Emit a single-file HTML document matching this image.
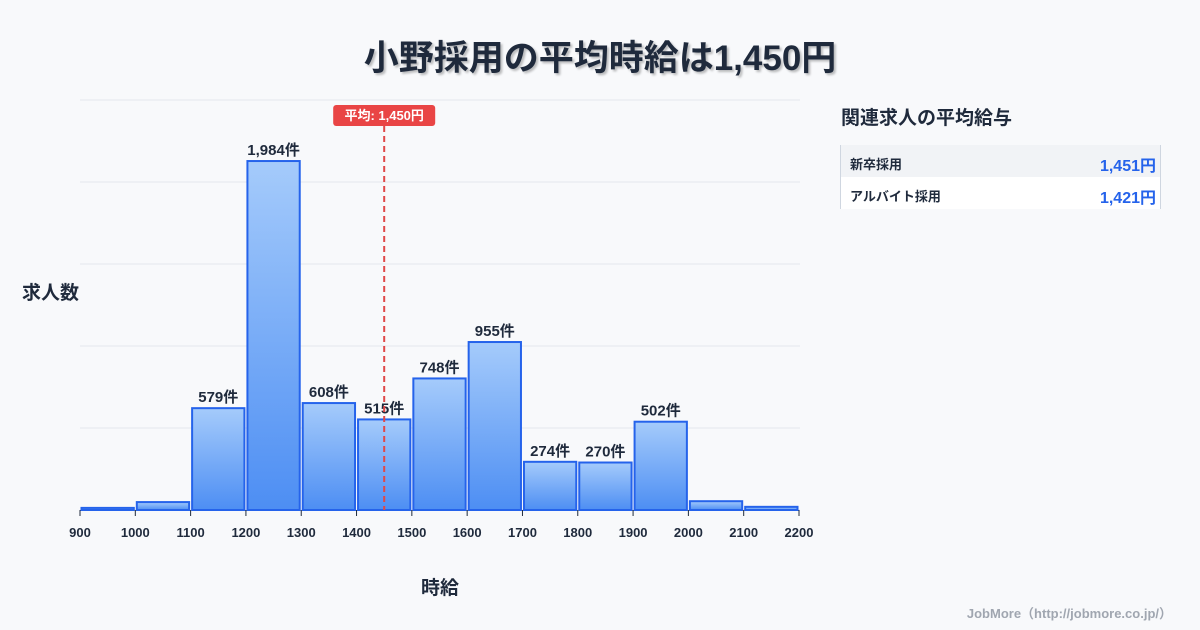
<!DOCTYPE html>
<html><head><meta charset="utf-8"><style>
body{margin:0;width:1200px;height:630px;background:#f8f9fb;font-family:"Liberation Sans","Noto Sans CJK JP",sans-serif;color:#1f2a3c;overflow:hidden;position:relative}
.t{position:absolute;white-space:nowrap}
</style></head><body>
<div class="t" style="left:0;width:1200px;text-align:center;top:30px;font-size:35px;font-weight:bold;text-shadow:2px 2px 2px rgba(0,0,0,0.25)">小野採用の平均時給は1,450円</div>
<svg width="1200" height="630" style="position:absolute;left:0;top:0">
<defs><linearGradient id="g" x1="0" y1="0" x2="0" y2="1"><stop offset="0" stop-color="#a5cbfb"/><stop offset="1" stop-color="#4d8ef3"/></linearGradient></defs>
<g id="grid"></g><g id="bars"></g><g id="labels"></g><g id="ticks"></g>
<text x="22" y="299" font-size="19" font-weight="bold" fill="#1f2a3c">求人数</text>
<text x="440" y="594" font-size="19" font-weight="bold" fill="#1f2a3c" text-anchor="middle">時給</text>
</svg>
<div class="t" style="left:841px;top:103px;font-size:19px;font-weight:bold">関連求人の平均給与</div>
<div style="position:absolute;left:840px;top:145px;width:319px;border-left:1px solid #cfd6e0;border-right:1px solid #cfd6e0">
<div style="height:32px;background:#f1f3f6;position:relative"><span class="t" style="left:9px;top:9px;font-size:13px;font-weight:bold">新卒採用</span><span class="t" style="right:4px;top:7px;font-size:16px;font-weight:bold;color:#2563eb">1,451円</span></div>
<div style="height:32px;background:#fff;position:relative"><span class="t" style="left:9px;top:9px;font-size:13px;font-weight:bold">アルバイト採用</span><span class="t" style="right:4px;top:7px;font-size:16px;font-weight:bold;color:#2563eb">1,421円</span></div>
</div>
<div class="t" style="right:28px;top:603px;font-size:13px;font-weight:bold;color:#a0a6b0">JobMore（http://jobmore.co.jp/）</div>
<script>
const binStarts=[900,1000,1100,1200,1300,1400,1500,1600,1700,1800,1900,2000,2100];
const counts=[12,45,579,1984,608,515,748,955,274,270,502,50,18];
const labeled=[false,false,true,true,true,true,true,true,true,true,true,false,false];
const xTicks=[900,1000,1100,1200,1300,1400,1500,1600,1700,1800,1900,2000,2100,2200];
const avg=1450;
const yMax=2331;
const NS="http://www.w3.org/2000/svg";
const x=v=>80+(v-900)*(719/1300);
const y=v=>510-v*(410/yMax);
function mk(t,a,p){const e=document.createElementNS(NS,t);for(const k in a)e.setAttribute(k,a[k]);p.appendChild(e);return e;}
const grid=document.getElementById('grid'),bars=document.getElementById('bars'),labels=document.getElementById('labels'),ticks=document.getElementById('ticks');
for(let i=0;i<=5;i++){const gy=510-i*82;const l=mk('line',{x1:80,x2:800,y1:gy,y2:gy,stroke:'#e3e7ec','stroke-width':1},grid);

}
binStarts.forEach((b,i)=>{const x0=x(b)+1.5,x1=x(b+100)-1.5,yt=y(counts[i]);
const r=mk('rect',{x:x0,y:yt,width:x1-x0,height:510-yt,fill:'url(#g)',stroke:'#2563eb','stroke-width':2},bars);


if(labeled[i]){const t=mk('text',{x:(x0+x1)/2,y:yt-6,'text-anchor':'middle','font-size':15,'font-weight':'bold',fill:'#1f2a3c'},labels);t.textContent=counts[i].toLocaleString('en-US')+'件';

}});
xTicks.forEach(v=>{mk('line',{x1:x(v),x2:x(v),y1:510,y2:516,stroke:'#1f2a3c','stroke-width':1},ticks);
const t=mk('text',{x:x(v),y:537,'text-anchor':'middle','font-size':13,'font-weight':'bold',fill:'#1f2a3c'},ticks);t.textContent=v;

});
const ax=x(avg);
const al=mk('line',{x1:ax,x2:ax,y1:126,y2:510,stroke:'#e04848','stroke-width':2,'stroke-dasharray':'6,4'},labels);


const ab=mk('rect',{x:ax-51,y:105,width:102,height:21,rx:3,fill:'#e94545'},labels);


const at=mk('text',{x:ax,y:120,'text-anchor':'middle','font-size':13,'font-weight':'bold',fill:'#fff'},labels);at.textContent='平均: 1,450円';


</script>
</body></html>
